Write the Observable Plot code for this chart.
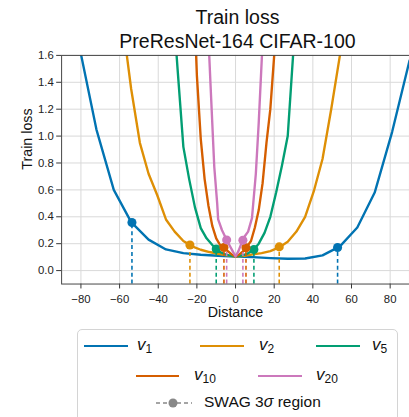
<!DOCTYPE html>
<html><head><meta charset="utf-8">
<script src="https://cdn.jsdelivr.net/npm/d3@7"></script>
<script src="https://cdn.jsdelivr.net/npm/@observablehq/plot@0.6"></script>
<style>
body{margin:0;background:#fff;font-family:"Liberation Sans",Arial,sans-serif;}
#wrap{position:relative;width:409px;height:417px;overflow:hidden;background:#fff;}
#title{position:absolute;left:0;top:5px;width:475px;text-align:center;font-size:19.5px;line-height:24px;color:#111;}
#chart{position:absolute;left:0;top:48px;}
#legend{position:absolute;left:77px;top:329px;width:321px;height:100px;border:1px solid #d4d4d4;border-radius:5px;box-sizing:border-box;}
.li{position:absolute;height:0;}
.lt{position:absolute;font-size:16px;color:#111;white-space:nowrap;line-height:20px;}
.lt i{font-size:17px;}
.lt sub{font-size:12px;vertical-align:-3px;}
</style></head>
<body><div id="wrap">
<div id="title">Train loss<br>PreResNet-164 CIFAR-100</div>
<div id="chart"></div>
<div id="legend"></div>
</div>
<script>
const seriesNames = ["v1","v2","v5","v10","v20"];
const seriesSubs = ["1","2","5","10","20"];
const colors = ["#0173b2","#de8f05","#029e73","#d55e00","#cc78bc"];

const v1Dist = [-90,-81,-72,-63,-54,-45,-36,-27,-18,-9,0,9,18,27,36,45,54,63,72,81,90];
const v1Loss = [2.5,1.68,1.05,0.6,0.36,0.23,0.157,0.13,0.118,0.11,0.105,0.1,0.093,0.088,0.09,0.113,0.18,0.32,0.58,1.03,1.56];

const v2Dist = [-58.5,-54,-49.5,-45,-40.5,-36,-31.5,-27,-22.5,-18,-13.5,-9,-4.5,0,4.5,9,13.5,18,22.5,27,31.5,36,40.5,45,49.5,54,58.5];
const v2Loss = [1.85,1.35,0.95,0.72,0.56,0.38,0.29,0.22,0.18,0.155,0.138,0.125,0.113,0.105,0.11,0.12,0.13,0.145,0.172,0.215,0.29,0.40,0.59,0.83,1.2,1.6,2.0];

const v5Dist = [-33,-30,-27,-24,-21,-18,-15,-12,-9,-6,-3,0,3,6,9,12,15,18,21,24,27,30,33];
const v5Loss = [2.1,1.5,0.92,0.68,0.47,0.316,0.24,0.19,0.145,0.125,0.112,0.105,0.112,0.125,0.15,0.2,0.28,0.4,0.58,0.78,1.0,1.65,2.3];

const v10Dist = [-22,-20,-18,-16,-14,-12,-10,-8,-6,-4,-2,0,2,4,6,8,10,12,14,16,18,20,22];
const v10Loss = [2.2,1.45,0.98,0.68,0.48,0.33,0.24,0.19,0.17,0.145,0.12,0.105,0.12,0.145,0.18,0.22,0.32,0.45,0.65,0.95,1.2,1.6,2.2];

const v20Dist = [-15,-13,-11,-9.5,-9,-7,-5,-3,-1.5,0,1.5,3,4.5,6.5,8.5,10.5,12,14,16];
const v20Loss = [2.05,1.4,0.77,0.5,0.38,0.3,0.24,0.185,0.145,0.105,0.145,0.2,0.25,0.29,0.39,0.72,1.1,1.7,2.4];

const dotSeries = ["v1","v1","v2","v2","v5","v5","v10","v10","v20","v20"];
const dotDist = [-53.6,52.8,-23.6,22.6,-10,9.5,-6,5.4,-4.6,3.8];
const dotLoss = [0.357,0.172,0.19,0.176,0.16,0.157,0.172,0.17,0.228,0.226];

const xTicks = [-80,-60,-40,-20,0,20,40,60,80];
const yTicks = [0,0.2,0.4,0.6,0.8,1.0,1.2,1.4,1.6];

const dists = [v1Dist,v2Dist,v5Dist,v10Dist,v20Dist];
const losses = [v1Loss,v2Loss,v5Loss,v10Loss,v20Loss];
const curves = [];
seriesNames.forEach((s,i)=>dists[i].forEach((d,j)=>curves.push({series:s,dist:d,loss:losses[i][j]})));
const dots = dotSeries.map((s,i)=>({series:s,dist:dotDist[i],loss:dotLoss[i]}));

const chart = Plot.plot({
  width: 415, height: 277,
  marginLeft: 62, marginRight: 0, marginTop: 7, marginBottom: 38,
  style: {fontSize: "11.5px", fontFamily: "'Liberation Sans', Arial, sans-serif", color: "#222", background: "transparent", overflow: "visible"},
  x: {domain: [-90, 90]},
  y: {domain: [-0.1, 1.6]},
  color: {domain: seriesNames, range: colors},
  marks: [
    Plot.gridX(xTicks, {stroke: "#d8d8d8", strokeOpacity: 1, strokeWidth: 1}),
    Plot.gridY(yTicks, {stroke: "#d8d8d8", strokeOpacity: 1, strokeWidth: 1}),
    Plot.axisX({ticks: xTicks, tickFormat: d3.format("d"), tickSize: 5, tickPadding: 6, label: null, stroke: "#333"}),
    Plot.axisY({ticks: yTicks, tickFormat: d3.format(".1f"), tickSize: 5, tickPadding: 3, label: null, stroke: "#333"}),
    Plot.line(curves, {x: "dist", y: "loss", z: "series", stroke: "series", strokeWidth: 2.4, clip: true}),
    Plot.ruleX(dots, {x: "dist", y1: -0.1, y2: "loss", stroke: "series", strokeWidth: 1.6, strokeDasharray: "4,3"}),
    Plot.dot(dots, {x: "dist", y: "loss", fill: "series", r: 4.6}),
    Plot.frame({stroke: "#444", strokeWidth: 1}),
    Plot.text(["Distance"], {text: d => d, frameAnchor: "bottom", dy: 33, fontSize: 14.5, fill: "#111"}),
    Plot.text(["Train loss"], {text: d => d, frameAnchor: "left", dx: -35, rotate: -90, fontSize: 14.5, fill: "#111"})
  ]
});
document.getElementById("chart").appendChild(chart);

// legend
const legend = document.getElementById("legend");
const L = 77, T = 329;
const items = [
  {i:0, x1:83, x2:127, tx:136, y:345},
  {i:1, x1:199, x2:243, tx:258, y:345},
  {i:2, x1:315, x2:359, tx:371, y:345},
  {i:3, x1:135, x2:178, tx:193, y:375},
  {i:4, x1:257, x2:301, tx:315, y:375}
];
items.forEach(it=>{
  const ln = document.createElement("div");
  ln.className = "li";
  ln.style.left = (it.x1 - L) + "px";
  ln.style.width = (it.x2 - it.x1) + "px";
  ln.style.top = (it.y - T - 1.5) + "px";
  ln.style.borderTop = "2.6px solid " + colors[it.i];
  legend.appendChild(ln);
  const t = document.createElement("div");
  t.className = "lt";
  t.style.left = (it.tx - L) + "px";
  t.style.top = (it.y - T - 11) + "px";
  t.innerHTML = "<i>v</i><sub>" + seriesSubs[it.i] + "</sub>";
  legend.appendChild(t);
});
// SWAG entry
const sw = document.createElementNS("http://www.w3.org/2000/svg","svg");
sw.setAttribute("width","40"); sw.setAttribute("height","12");
sw.style.position = "absolute";
sw.style.left = (153 - L) + "px";
sw.style.top = (402 - T - 6) + "px";
sw.innerHTML = '<line x1="2" y1="6" x2="38" y2="6" stroke="#888" stroke-width="1.6" stroke-dasharray="4,3"/><circle cx="19" cy="6" r="4.5" fill="#888"/>';
legend.appendChild(sw);
const st = document.createElement("div");
st.className = "lt";
st.style.left = (203 - L) + "px";
st.style.top = (402 - T - 11) + "px";
st.style.fontSize = "15.5px";
st.innerHTML = "SWAG 3<i style='font-size:16px'>σ</i> region";
legend.appendChild(st);
</script>
</body></html>
